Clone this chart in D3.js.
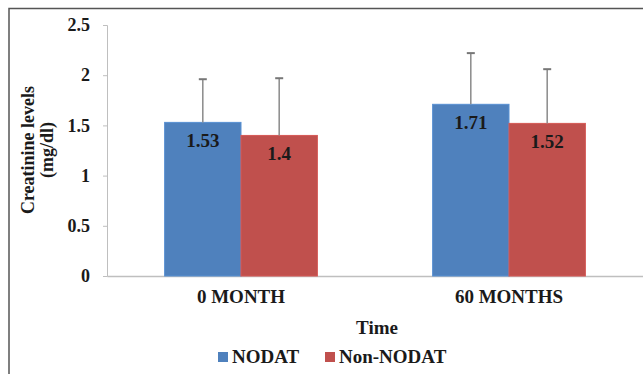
<!DOCTYPE html>
<html>
<head>
<meta charset="utf-8">
<script src="https://cdn.jsdelivr.net/npm/d3@7"></script>
<style>
  body { margin: 0; background: #fff; }
  svg { display: block; }
  svg text { font-family: "Liberation Serif", "DejaVu Serif", serif !important; font-weight: bold; fill: #1a1a1a; }
</style>
</head>
<body>
<svg></svg>
<script>
// data
let categories = ["0 MONTH", "60 MONTHS"]
let series = ["NODAT", "Non-NODAT"]
let nodat = [1.53, 1.71]
let nonNodat = [1.4, 1.52]
let nodatErr = [0.43, 0.51]
let nonNodatErr = [0.57, 0.54]
let yTicks = [0, 0.5, 1, 1.5, 2, 2.5]
let colors = ["#4F81BD", "#C0504D"]

let width = 643
let height = 374
let plotLeft = 107
let plotRight = 643
let plotTop = 25
let plotBottom = 276

let svg = d3.select("svg").attr("width", width).attr("height", height)

// outer frame (picture is cropped on right and bottom)
svg.append("rect")
    .attr("x", 9).attr("y", 8.5)
    .attr("width", width + 20).attr("height", height + 20)
    .attr("fill", "none").attr("stroke", "#555").attr("stroke-width", 1.5)

let xScale = d3.scaleBand().domain(categories).range([plotLeft, plotRight]).paddingInner(0.43).paddingOuter(0.215)
let sub = d3.scaleBand().domain(series).range([0, xScale.bandwidth()])
let yScale = d3.scaleLinear().domain([0, 2.5]).range([plotBottom, plotTop])

let rows = []
categories.forEach((c, i) => {
    rows.push({cat: c, s: series[0], v: nodat[i], e: nodatErr[i], col: colors[0]})
    rows.push({cat: c, s: series[1], v: nonNodat[i], e: nonNodatErr[i], col: colors[1]})
})

// y axis
let yAxis = d3.axisLeft(yScale).tickValues(yTicks).tickSize(4).tickPadding(13).tickFormat(d => d)
let yg = svg.append("g").attr("transform", "translate(" + plotLeft + ",0)").call(yAxis)
yg.select(".domain").attr("stroke", "#bfbfbf")
yg.selectAll(".tick line").attr("stroke", "#bfbfbf")
yg.selectAll("text").style("font-size", "18px")

// x axis line
let xAxis = d3.axisBottom(xScale).tickSize(0).tickPadding(14)
let xg = svg.append("g").attr("transform", "translate(0," + plotBottom + ")").call(xAxis)
xg.select(".domain").attr("stroke", "#bfbfbf").attr("stroke-width", 1.5)
xg.selectAll("text").style("font-size", "19px")

// bars
svg.selectAll(".bar")
    .data(rows)
    .enter()
    .append("rect")
    .attr("class", "bar")
    .attr("x", d => xScale(d.cat) + sub(d.s))
    .attr("y", d => yScale(d.v))
    .attr("width", sub.bandwidth())
    .attr("height", d => yScale(0) - yScale(d.v))
    .attr("fill", d => d.col)
    .attr("stroke", d => d3.color(d.col).brighter(0.3))
    .attr("stroke-width", 1)

// error bars
let eb = svg.selectAll(".err").data(rows).enter().append("g").attr("class", "err")
eb.append("line")
    .attr("x1", d => xScale(d.cat) + sub(d.s) + sub.bandwidth() / 2)
    .attr("x2", d => xScale(d.cat) + sub(d.s) + sub.bandwidth() / 2)
    .attr("y1", d => yScale(d.v))
    .attr("y2", d => yScale(d.v + d.e))
    .attr("stroke", "#8a8a8a").attr("stroke-width", 1.5)
eb.append("line")
    .attr("x1", d => xScale(d.cat) + sub(d.s) + sub.bandwidth() / 2 - 4)
    .attr("x2", d => xScale(d.cat) + sub(d.s) + sub.bandwidth() / 2 + 4)
    .attr("y1", d => yScale(d.v + d.e))
    .attr("y2", d => yScale(d.v + d.e))
    .attr("stroke", "#777").attr("stroke-width", 2)

// value labels
svg.selectAll(".lbl")
    .data(rows)
    .enter()
    .append("text")
    .attr("x", d => xScale(d.cat) + sub(d.s) + sub.bandwidth() / 2)
    .attr("y", d => yScale(d.v) + 25)
    .attr("text-anchor", "middle")
    .style("font-size", "19px")
    .text(d => d.v)

// axis titles
svg.append("text")
    .attr("transform", "translate(34, 150) rotate(-90)")
    .attr("text-anchor", "middle")
    .style("font-size", "18px")
    .text("Creatinine levels")
svg.append("text")
    .attr("transform", "translate(53, 150) rotate(-90)")
    .attr("text-anchor", "middle")
    .style("font-size", "18px")
    .text("(mg/dl)")

svg.append("text")
    .attr("x", 377).attr("y", 334)
    .attr("text-anchor", "middle")
    .style("font-size", "19px")
    .text("Time")

// legend
let legX = [218, 325]
let leg = svg.selectAll(".leg").data(series).enter().append("g")
    .attr("transform", (d, i) => "translate(" + legX[i] + ",352)")
leg.append("rect").attr("width", 10).attr("height", 10).attr("fill", (d, i) => colors[i])
leg.append("text").attr("x", 14).attr("y", 11)
    .style("font-size", "19px")
    .text(d => d)
</script>
</body>
</html>
